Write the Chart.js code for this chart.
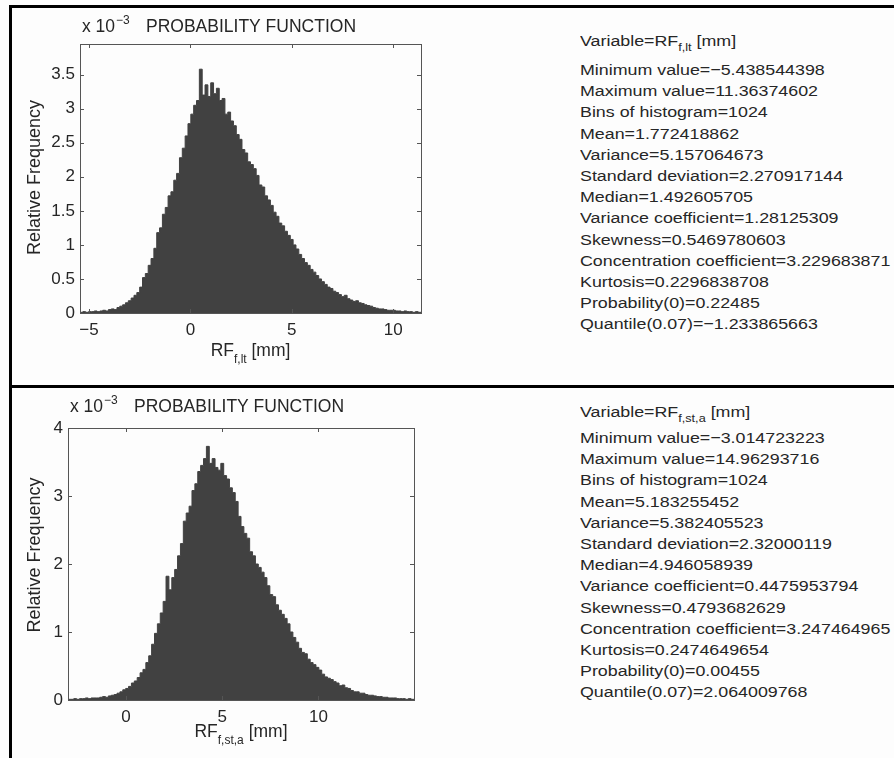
<!DOCTYPE html>
<html lang="en">
<head>
<meta charset="UTF-8">
<title>Probability function</title>
<script src="https://cdn.jsdelivr.net/npm/chart.js"></script>
<style>
  body { margin: 0; background: #fdfdfd; font-family: "Liberation Sans", Arial, sans-serif; color: #262626; }
  #page { position: relative; width: 894px; height: 758px; overflow: hidden; }
  .rule { position: absolute; background: #000; }
  canvas { position: absolute; left: 0; }
  .stats { position: absolute; left: 580px; font-size: 15.5px; line-height: 21.2px; transform: scaleX(1.15); transform-origin: left top; white-space: nowrap; }
  .stats sub { font-size: 11px; vertical-align: -5px; line-height: 0; }
</style>
</head>
<body>
<div id="page">
  <canvas id="chartTop" width="460" height="380" style="top:0"></canvas>
  <canvas id="chartBottom" width="460" height="368" style="top:390px"></canvas>

  <div class="stats" style="top:30px">Variable=RF<sub>f,lt</sub> [mm]</div>
  <div class="stats" id="statsTop" style="top:59px"></div>
  <div class="stats" style="top:401px">Variable=RF<sub>f,st,a</sub> [mm]</div>
  <div class="stats" id="statsBottom" style="top:427px"></div>

  <div class="rule" style="left:9px;top:5px;width:885px;height:3px"></div>
  <div class="rule" style="left:9px;top:5px;width:3px;height:753px"></div>
  <div class="rule" style="left:9px;top:385px;width:885px;height:3px"></div>
</div>

<script>
// relative frequency per bin, in units of 10^-3 (120 bins each)
const topMin = -5.438544398;
const topMax = 11.36374602;
const topFreq = [
  0.01, 0.02, 0.01, 0.02, 0.02, 0.03, 0.02, 0.03, 0.04, 0.03,
  0.05, 0.06, 0.05, 0.08, 0.10, 0.12, 0.15, 0.18, 0.22, 0.26,
  0.30, 0.38, 0.52, 0.58, 0.70, 0.80, 0.95, 1.18, 1.25, 1.45,
  1.55, 1.72, 1.78, 1.95, 2.05, 2.28, 2.42, 2.60, 2.78, 2.92,
  3.05, 3.12, 3.58, 3.20, 3.35, 3.18, 3.38, 3.22, 3.30, 3.12,
  3.15, 2.92, 2.95, 2.82, 2.75, 2.62, 2.55, 2.40, 2.35, 2.22,
  2.18, 2.12, 2.02, 1.88, 1.85, 1.72, 1.66, 1.58, 1.48, 1.42,
  1.32, 1.28, 1.20, 1.14, 1.08, 1.00, 0.94, 0.86, 0.80, 0.74,
  0.70, 0.64, 0.60, 0.55, 0.50, 0.46, 0.42, 0.38, 0.36, 0.32,
  0.30, 0.27, 0.24, 0.26, 0.21, 0.19, 0.17, 0.18, 0.15, 0.14,
  0.12, 0.11, 0.10, 0.08, 0.07, 0.06, 0.06, 0.05, 0.04, 0.04,
  0.04, 0.03, 0.03, 0.02, 0.03, 0.02, 0.02, 0.01, 0.02, 0.01
];
const topXTicks = [-5, 0, 5, 10];
const topYTicks = [0, 0.5, 1, 1.5, 2, 2.5, 3, 3.5];
const topYMax = 3.95;

const bottomMin = -3.014723223;
const bottomMax = 14.96293716;
const bottomFreq = [
  0.01, 0.01, 0.02, 0.01, 0.02, 0.02, 0.03, 0.02, 0.03, 0.03,
  0.03, 0.04, 0.05, 0.04, 0.06, 0.07, 0.08, 0.10, 0.12, 0.15,
  0.17, 0.20, 0.25, 0.28, 0.33, 0.40, 0.45, 0.55, 0.65, 0.82,
  0.98, 1.12, 1.28, 1.45, 1.82, 1.62, 1.80, 1.92, 2.12, 2.30,
  2.63, 2.75, 2.85, 3.08, 3.18, 3.36, 3.45, 3.55, 3.73, 3.48,
  3.55, 3.42, 3.38, 3.48, 3.30, 3.25, 3.12, 3.05, 2.92, 2.70,
  2.55, 2.45, 2.38, 2.18, 2.12, 2.00, 1.95, 1.88, 1.80, 1.68,
  1.55, 1.52, 1.40, 1.32, 1.26, 1.20, 1.12, 1.00, 0.92, 0.85,
  0.76, 0.70, 0.68, 0.60, 0.55, 0.52, 0.48, 0.44, 0.38, 0.34,
  0.32, 0.30, 0.27, 0.25, 0.21, 0.22, 0.18, 0.17, 0.14, 0.12,
  0.12, 0.10, 0.10, 0.08, 0.07, 0.07, 0.06, 0.05, 0.05, 0.04,
  0.04, 0.03, 0.03, 0.03, 0.02, 0.02, 0.02, 0.01, 0.02, 0.01
];
const bottomXTicks = [0, 5, 10];
const bottomYTicks = [0, 1, 2, 3, 4];
const bottomYMax = 4;

const statLabels = ['Minimum value', 'Maximum value', 'Bins of histogram', 'Mean', 'Variance',
  'Standard deviation', 'Median', 'Variance coefficient', 'Skewness',
  'Concentration coefficient', 'Kurtosis', 'Probability(0)', 'Quantile(0.07)'];
const topStats = ['\u22125.438544398', '11.36374602', '1024', '1.772418862', '5.157064673',
  '2.270917144', '1.492605705', '1.28125309', '0.5469780603', '3.229683871',
  '0.2296838708', '0.22485', '\u22121.233865663'];
const bottomStats = ['\u22123.014723223', '14.96293716', '1024', '5.183255452', '5.382405523',
  '2.32000119', '4.946058939', '0.4475953794', '0.4793682629', '3.247464965',
  '0.2474649654', '0.00455', '2.064009768'];

const FONT = '"Liberation Sans", Arial, sans-serif';
const INK = '#262626';
const BAR = '#414141';

function fmt(v) {
  return v < 0 ? '\u2212' + Math.abs(v) : String(v);
}

function histPoints(xmin, xmax, freq) {
  const w = (xmax - xmin) / freq.length;
  const pts = freq.map((y, i) => ({ x: xmin + i * w, y: y }));
  pts.push({ x: xmax, y: freq[freq.length - 1] });
  return pts;
}

// box, inward ticks and the texts around the axes, matlab style
const matlabFrame = {
  id: 'matlabFrame',
  afterDatasetsDraw(chart, args, o) {
    const { ctx, chartArea: a, scales } = chart;
    ctx.save();
    ctx.strokeStyle = '#555';
    ctx.lineWidth = 1;
    ctx.strokeRect(Math.round(a.left) + 0.5, Math.round(a.top) + 0.5,
      Math.round(a.right - a.left), Math.round(a.bottom - a.top));
    ctx.beginPath();
    o.xTicks.forEach(v => {
      const px = Math.round(scales.x.getPixelForValue(v)) + 0.5;
      ctx.moveTo(px, a.top); ctx.lineTo(px, a.top + 4);
      ctx.moveTo(px, a.bottom); ctx.lineTo(px, a.bottom - 4);
    });
    o.yTicks.forEach(v => {
      const py = Math.round(scales.y.getPixelForValue(v)) + 0.5;
      ctx.moveTo(a.left, py); ctx.lineTo(a.left + 4, py);
      ctx.moveTo(a.right, py); ctx.lineTo(a.right - 4, py);
    });
    ctx.stroke();

    ctx.fillStyle = INK;
    ctx.textBaseline = 'alphabetic';
    ctx.textAlign = 'left';
    // header: x 10^-3   PROBABILITY FUNCTION
    const hy = a.top - o.headGap;
    ctx.font = '17.5px ' + FONT;
    ctx.fillText('x 10', a.left + 2, hy);
    const w10 = ctx.measureText('x 10').width;
    ctx.font = '12px ' + FONT;
    ctx.fillText('\u22123', a.left + 2 + w10 + 1, hy - 8);
    ctx.font = '17.5px ' + FONT;
    ctx.fillText('PROBABILITY FUNCTION', a.left + 66, hy);

    // x title with subscript
    const ty = a.bottom + o.xTitleGap;
    ctx.font = '17.5px ' + FONT;
    const wRF = ctx.measureText('RF').width;
    const wMM = ctx.measureText(' [mm]').width;
    ctx.font = '12px ' + FONT;
    const wSub = ctx.measureText(o.sub).width;
    let tx = (a.left + a.right) / 2 - (wRF + wSub + wMM) / 2;
    ctx.font = '17.5px ' + FONT;
    ctx.fillText('RF', tx, ty);
    ctx.font = '12px ' + FONT;
    ctx.fillText(o.sub, tx + wRF, ty + 7);
    ctx.font = '17.5px ' + FONT;
    ctx.fillText(' [mm]', tx + wRF + wSub, ty);

    // y title
    ctx.translate(35, (a.top + a.bottom) / 2 + o.yTitleShift);
    ctx.rotate(-Math.PI / 2);
    ctx.textAlign = 'center';
    ctx.textBaseline = 'middle';
    ctx.font = '18px ' + FONT;
    ctx.fillText('Relative Frequency', 0, 0);
    ctx.restore();
  }
};

function makeChart(id, c) {
  return new Chart(document.getElementById(id), {
    type: 'line',
    data: {
      datasets: [{
        data: histPoints(c.xmin, c.xmax, c.freq),
        stepped: true,
        fill: 'origin',
        backgroundColor: BAR,
        borderColor: BAR,
        borderWidth: 1,
        pointRadius: 0
      }]
    },
    options: {
      responsive: false,
      animation: false,
      events: [],
      layout: { padding: { top: c.padTop, right: c.padRight, left: 0, bottom: 0 } },
      plugins: {
        legend: { display: false },
        tooltip: { enabled: false },
        matlabFrame: { xTicks: c.xTicks, yTicks: c.yTicks, sub: c.sub, headGap: c.headGap, xTitleGap: c.xTitleGap, yTitleShift: c.yTitleShift }
      },
      scales: {
        x: {
          type: 'linear',
          min: c.xmin,
          max: c.xmax,
          grid: { display: false, drawTicks: false },
          border: { display: false },
          ticks: { color: INK, font: { family: FONT, size: 17 }, padding: 7, maxRotation: 0, autoSkip: false, callback: v => fmt(v) },
          afterBuildTicks: s => { s.ticks = c.xTicks.map(v => ({ value: v })); },
          afterFit: s => { s.height = c.xAxisHeight; }
        },
        y: {
          min: 0,
          max: c.ymax,
          grid: { display: false, drawTicks: false },
          border: { display: false },
          ticks: { color: INK, font: { family: FONT, size: 17 }, padding: 5, autoSkip: false, callback: v => fmt(v) },
          afterBuildTicks: s => { s.ticks = c.yTicks.map(v => ({ value: v })); },
          afterFit: s => { s.width = c.yAxisWidth; }
        }
      }
    },
    plugins: [matlabFrame]
  });
}

makeChart('chartTop', {
  xmin: topMin, xmax: topMax, freq: topFreq, ymax: topYMax,
  xTicks: topXTicks, yTicks: topYTicks, sub: 'f,lt',
  padTop: 44, padRight: 39, yAxisWidth: 80, xAxisHeight: 67,
  headGap: 12, xTitleGap: 43, yTitleShift: -1
});

makeChart('chartBottom', {
  xmin: bottomMin, xmax: bottomMax, freq: bottomFreq, ymax: bottomYMax,
  xTicks: bottomXTicks, yTicks: bottomYTicks, sub: 'f,st,a',
  padTop: 38, padRight: 46, yAxisWidth: 68, xAxisHeight: 58,
  headGap: 16, xTitleGap: 37, yTitleShift: -9
});

function fillStats(id, values) {
  document.getElementById(id).innerHTML =
    statLabels.map((l, i) => '<div>' + l + '=' + values[i] + '</div>').join('');
}
fillStats('statsTop', topStats);
fillStats('statsBottom', bottomStats);
</script>
</body>
</html>
